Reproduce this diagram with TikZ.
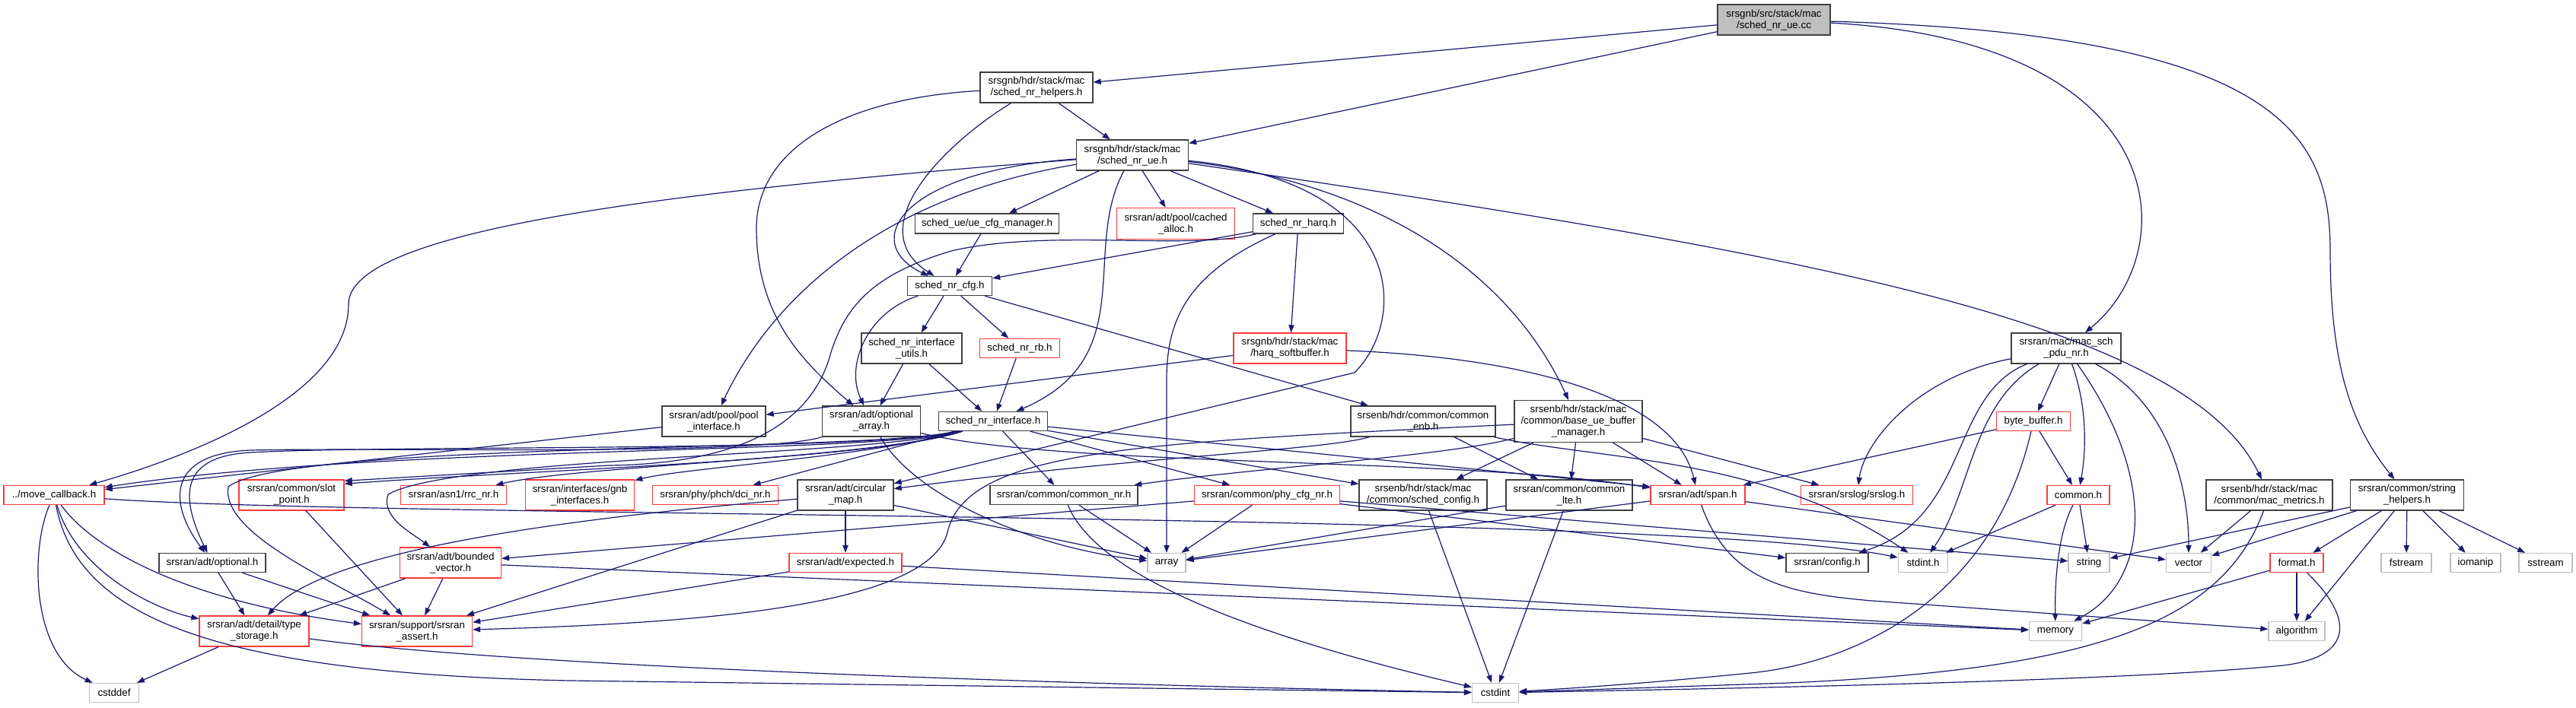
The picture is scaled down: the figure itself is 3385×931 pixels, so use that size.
\documentclass[tikz,border=0pt]{standalone}
\usepackage{fontspec}
\setmainfont{Liberation Sans}
\usetikzlibrary{arrows.meta}
\definecolor{edgec}{HTML}{191970}
\definecolor{bord}{HTML}{404040}
\definecolor{redb}{HTML}{FF3B3B}
\definecolor{grayb}{HTML}{BFBFBF}
\begin{document}
\begin{tikzpicture}[x=0.75pt,y=-0.75pt,
  nb/.style={draw=bord, fill=white, line width=1pt, inner sep=0pt, align=center, font=\fontsize{10pt}{11.25pt}\selectfont},
  nr/.style={nb, draw=redb},
  ng/.style={nb, draw=grayb},
  sz/.style 2 args={minimum width=#1*0.75pt, minimum height=#2*0.75pt},
  e/.style={draw=edgec, line width=0.9pt, -{Triangle[length=7.5pt,width=5.5pt]}},
]
\fill[white] (0,0) rectangle (3385,931);
\useasboundingbox (0,0) rectangle (3385,931);

% ---- nodes ----
\node[nb, fill=grayb, sz={148}{40}] (root) at (2331,26) {srsgnb/src/stack/mac\\/sched\_nr\_ue.cc};
\node[nb, sz={148}{40}] (helpers) at (1362,115) {srsgnb/hdr/stack/mac\\/sched\_nr\_helpers.h};
\node[nb, sz={147}{40}] (ue) at (1488,204) {srsgnb/hdr/stack/mac\\/sched\_nr\_ue.h};
\node[nb, sz={189}{26}] (uecfg) at (1297,294) {sched\_ue/ue\_cfg\_manager.h};
\node[nr, sz={155}{41}] (cached) at (1545,294) {srsran/adt/pool/cached\\\_alloc.h};
\node[nb, sz={119}{26}] (harq) at (1706,294) {sched\_nr\_harq.h};
\node[nb, sz={111}{25}] (cfg) at (1248,376) {sched\_nr\_cfg.h};
\node[nb, sz={132}{40}] (ifutils) at (1198,458) {sched\_nr\_interface\\\_utils.h};
\node[nr, sz={105}{25}] (rb) at (1340,458) {sched\_nr\_rb.h};
\node[nr, sz={148}{40}] (softbuf) at (1695,458) {srsgnb/hdr/stack/mac\\/harq\_softbuffer.h};
\node[nb, sz={144}{40}] (macpdu) at (2715,458) {srsran/mac/mac\_sch\\\_pdu\_nr.h};
\node[nb, sz={136}{40}] (poolif) at (938,554) {srsran/adt/pool/pool\\\_interface.h};
\node[nb, sz={129}{40}] (optarr) at (1145,554) {srsran/adt/optional\\\_array.h};
\node[nb, sz={143}{25}] (iface) at (1305,554) {sched\_nr\_interface.h};
\node[nb, sz={190}{40}] (commonenb) at (1870,554) {srsenb/hdr/common/common\\\_enb.h};
\node[nb, sz={168}{55}] (baseue) at (2074,554) {srsenb/hdr/stack/mac\\/common/base\_ue\_buffer\\\_manager.h};
\node[nr, sz={97}{25}] (bytebuf) at (2672,554) {byte\_buffer.h};
\node[nr, sz={132}{25}] (movecb) at (71,651) {../move\_callback.h};
\node[nr, sz={138}{40}] (slotpt) at (383,651) {srsran/common/slot\\\_point.h};
\node[nr, sz={139}{25}] (rrcnr) at (596,651) {srsran/asn1/rrc\_nr.h};
\node[nr, sz={143}{40}] (gnbif) at (762,651) {srsran/interfaces/gnb\\\_interfaces.h};
\node[nr, sz={165}{25}] (dcinr) at (940,651) {srsran/phy/phch/dci\_nr.h};
\node[nb, sz={126}{40}] (circmap) at (1111,651) {srsran/adt/circular\\\_map.h};
\node[nb, sz={194}{25}] (commonnr) at (1398,651) {srsran/common/common\_nr.h};
\node[nr, sz={191}{25}] (phycfg) at (1665,651) {srsran/common/phy\_cfg\_nr.h};
\node[nb, sz={168}{40}] (schedcfg) at (1870,651) {srsenb/hdr/stack/mac\\/common/sched\_config.h};
\node[nb, sz={166}{40}] (commonlte) at (2062,651) {srsran/common/common\\\_lte.h};
\node[nr, sz={124}{25}] (span) at (2231,651) {srsran/adt/span.h};
\node[nr, sz={147}{25}] (srslog) at (2440,651) {srsran/srslog/srslog.h};
\node[nr, sz={82}{25}] (commonh) at (2731,651) {common.h};
\node[nb, sz={166}{40}] (macmetrics) at (2982,651) {srsenb/hdr/stack/mac\\/common/mac\_metrics.h};
\node[nb, sz={149}{40}] (strhelp) at (3163,651) {srsran/common/string\\\_helpers.h};
\node[nb, sz={140}{25}] (optional) at (279,740) {srsran/adt/optional.h};
\node[nr, sz={133}{40}] (bvec) at (592,740) {srsran/adt/bounded\\\_vector.h};
\node[nr, sz={148}{25}] (expected) at (1111,740) {srsran/adt/expected.h};
\node[ng, sz={50}{25}] (array) at (1533,740) {array};
\node[nb, sz={108}{25}] (config) at (2401,740) {srsran/config.h};
\node[ng, sz={65}{25}] (stdint) at (2527,740) {stdint.h};
\node[ng, sz={54}{25}] (string) at (2745,740) {string};
\node[ng, sz={59}{25}] (vector) at (2876,740) {vector};
\node[nr, sz={70}{25}] (format) at (3018,740) {format.h};
\node[ng, sz={66}{25}] (fstream) at (3162,740) {fstream};
\node[ng, sz={66}{25}] (iomanip) at (3253,740) {iomanip};
\node[ng, sz={70}{25}] (sstream) at (3345,740) {sstream};
\node[nr, sz={144}{40}] (tstore) at (334,830) {srsran/adt/detail/type\\\_storage.h};
\node[nr, sz={145}{40}] (assert) at (548,830) {srsran/support/srsran\\\_assert.h};
\node[ng, sz={69}{25}] (memory) at (2701,830) {memory};
\node[ng, sz={74}{25}] (algorithm) at (3018,830) {algorithm};
\node[ng, sz={65}{25}] (cstddef) at (150,911) {cstddef};
\node[ng, sz={61}{25}] (cstdint) at (1965,911) {cstdint};

% ---- edges ----
% root
\draw[e] (root) -- (helpers);
\draw[e] (root) -- (ue);
\draw[e] (root) .. controls (2860,55) and (2870,330) .. (macpdu);
\draw[e] (root) .. controls (3000,45) and (3062,180) .. (3062,330) .. controls (3062,480) and (3090,560) .. (strhelp);
% helpers
\draw[e] (helpers) -- (ue);
\draw[e] (helpers) .. controls (1240,190) and (1130,300) .. (cfg);
\draw[e] (helpers) .. controls (1100,130) and (994,200) .. (994,300) .. controls (994,420) and (1060,480) .. (optarr);
% ue
\draw[e] (ue) .. controls (900,250) and (458,300) .. (458,400) .. controls (458,520) and (250,600) .. (movecb);
\draw[e] (ue) .. controls (1150,260) and (1010,400) .. (poolif);
\draw[e] (ue) .. controls (1180,225) and (1130,320) .. (cfg);
\draw[e] (ue) -- (uecfg);
\draw[e] (ue) -- (cached);
\draw[e] (ue) -- (harq);
\draw[e] (ue) .. controls (1420,330) and (1500,470) .. (iface);
\draw[e] (ue) .. controls (1850,240) and (1850,420) .. (1780,490) -- (circmap);
\draw[e] (ue) .. controls (1800,240) and (1980,350) .. (baseue);
\draw[e] (ue) .. controls (2350,330) and (2870,420) .. (macmetrics);
% uecfg, harq
\draw[e] (uecfg) -- (cfg);
\draw[e] (harq) -- (cfg);
\draw[e] (harq) -- (softbuf);
\draw[e] (harq) .. controls (1560,330) and (1380,300) .. (1250,330) .. controls (1150,360) and (1110,400) .. (1090,470) .. controls (1060,570) and (950,610) .. (800,612) -- (slotpt.15);
\draw[e] (harq) .. controls (1560,360) and (1533,420) .. (1533,500) -- (array);
% cfg
\draw[e] (cfg) -- (ifutils);
\draw[e] (cfg) -- (rb);
\draw[e] (cfg) .. controls (1140,410) and (1110,480) .. (optarr);
\draw[e] (cfg) -- (commonenb);
\draw[e] (ifutils) -- (optarr);
\draw[e] (ifutils) -- (iface);
\draw[e] (rb) -- (iface);
% softbuf
\draw[e] (softbuf) -- (poolif);
\draw[e] (softbuf) .. controls (2000,470) and (2200,520) .. (span);
% poolif
\draw[e] (poolif) -- (movecb);
% optarr
\draw[e] (optarr) .. controls (1000,600) and (500,588) .. (330,592) .. controls (220,596) and (220,660) .. (optional);
\draw[e] (optarr) .. controls (1200,650) and (1350,720) .. (array);
\draw[e] (optarr) .. controls (1400,615) and (1900,600) .. (span);
% iface
\draw[e] (iface) .. controls (1150,605) and (700,618) .. (slotpt.12);
\draw[e] (iface) .. controls (1150,603) and (760,612) .. (rrcnr);
\draw[e] (iface) .. controls (1150,600) and (900,615) .. (gnbif.15);
\draw[e] (iface) -- (dcinr);
\draw[e] (iface) .. controls (1150,600) and (600,600) .. (510,650) .. controls (500,680) and (540,700) .. (bvec);
\draw[e] (iface) .. controls (1150,595) and (380,580) .. (300,640) .. controls (290,700) and (430,760) .. (assert);
\draw[e] (iface) .. controls (1150,598) and (500,585) .. (movecb);
\draw[e] (iface) .. controls (1150,595) and (500,585) .. (330,595) .. controls (230,600) and (240,660) .. (optional);
\draw[e] (iface) -- (commonnr);
\draw[e] (iface) -- (phycfg);
\draw[e] (iface) -- (schedcfg);
\draw[e] (iface) -- (span.170);
% circmap
\draw[e] (circmap) -- (array);
\draw[e] (circmap) -- (expected);
\draw[e] (circmap) .. controls (700,685) and (420,730) .. (tstore);
\draw[e] (circmap) -- (assert);
% expected, bvec, optional, slotpt
\draw[e] (expected) -- (assert);
\draw[e] (expected) -- (memory);
\draw[e] (bvec) -- (tstore);
\draw[e] (bvec) -- (assert);
\draw[e] (bvec) -- (memory);
\draw[e] (optional) -- (tstore);
\draw[e] (optional) -- (assert);
\draw[e] (slotpt) -- (assert);
% movecb
\draw[e] (movecb) .. controls (40,720) and (40,860) .. (cstddef);
\draw[e] (movecb) .. controls (100,800) and (250,885) .. (750,895) -- (cstdint);
\draw[e] (movecb) .. controls (100,750) and (200,800) .. (tstore);
\draw[e] (movecb) .. controls (120,720) and (240,790) .. (assert);
\draw[e] (movecb) .. controls (500,682) and (2200,672) .. (stdint);
% tstore
\draw[e] (tstore) -- (cstddef);
\draw[e] (tstore) .. controls (700,880) and (1500,902) .. (cstdint);
% commonnr, phycfg
\draw[e] (commonnr) -- (array);
\draw[e] (commonnr) .. controls (1450,780) and (1750,860) .. (cstdint);
\draw[e] (phycfg) -- (array);
\draw[e] (phycfg) -- (bvec);
\draw[e] (phycfg) -- (config);
\draw[e] (phycfg) -- (string);
% schedcfg, commonlte
\draw[e] (schedcfg) -- (cstdint);
\draw[e] (commonlte) -- (cstdint);
\draw[e] (commonlte) -- (array);
% span
\draw[e] (span) -- (array);
\draw[e] (span) -- (vector);
\draw[e] (span) .. controls (2270,760) and (2340,780) .. (2460,790) -- (algorithm);
% commonenb
\draw[e] (commonenb) -- (commonlte);
\draw[e] (commonenb) .. controls (2100,605) and (2320,600) .. (stdint);
\draw[e] (commonenb) .. controls (1740,592) and (1500,600) .. (circmap);
% baseue
\draw[e] (baseue) -- (schedcfg);
\draw[e] (baseue) -- (commonlte);
\draw[e] (baseue) -- (span);
\draw[e] (baseue) -- (srslog);
\draw[e] (baseue) .. controls (1900,600) and (1650,615) .. (commonnr);
\draw[e] (baseue) .. controls (1500,582) and (1270,590) .. (1245,700) .. controls (1220,800) and (900,820) .. (assert);
% bytebuf
\draw[e] (bytebuf) -- (span);
\draw[e] (bytebuf) -- (commonh);
\draw[e] (bytebuf) .. controls (2620,780) and (2450,870) .. (2300,885) .. controls (2150,900) and (2050,906) .. (cstdint);
% commonh
\draw[e] (commonh) -- (stdint);
\draw[e] (commonh) -- (string);
\draw[e] (commonh) .. controls (2705,700) and (2700,760) .. (memory);
% macpdu
\draw[e] (macpdu) .. controls (2520,495) and (2450,580) .. (srslog);
\draw[e] (macpdu) .. controls (2560,520) and (2590,680) .. (config);
\draw[e] (macpdu) .. controls (2590,530) and (2590,650) .. (stdint);
\draw[e] (macpdu) -- (bytebuf);
\draw[e] (macpdu) .. controls (2745,540) and (2740,600) .. (commonh);
\draw[e] (macpdu) .. controls (2830,620) and (2830,760) .. (memory);
\draw[e] (macpdu) .. controls (2850,530) and (2876,640) .. (vector);
% macmetrics
\draw[e] (macmetrics) -- (vector);
\draw[e] (macmetrics) .. controls (2920,820) and (2750,880) .. (2350,898) -- (cstdint);
% strhelp
\draw[e] (strhelp) -- (string);
\draw[e] (strhelp) -- (vector);
\draw[e] (strhelp) -- (format);
\draw[e] (strhelp) -- (fstream);
\draw[e] (strhelp) -- (iomanip);
\draw[e] (strhelp) -- (sstream);
\draw[e] (strhelp) -- (algorithm);
% format
\draw[e] (format) -- (memory);
\draw[e] (format) -- (algorithm);
\draw[e] (format) .. controls (3100,820) and (3085,865) .. (3000,875) .. controls (2800,895) and (2300,905) .. (cstdint);
\end{tikzpicture}
\end{document}
